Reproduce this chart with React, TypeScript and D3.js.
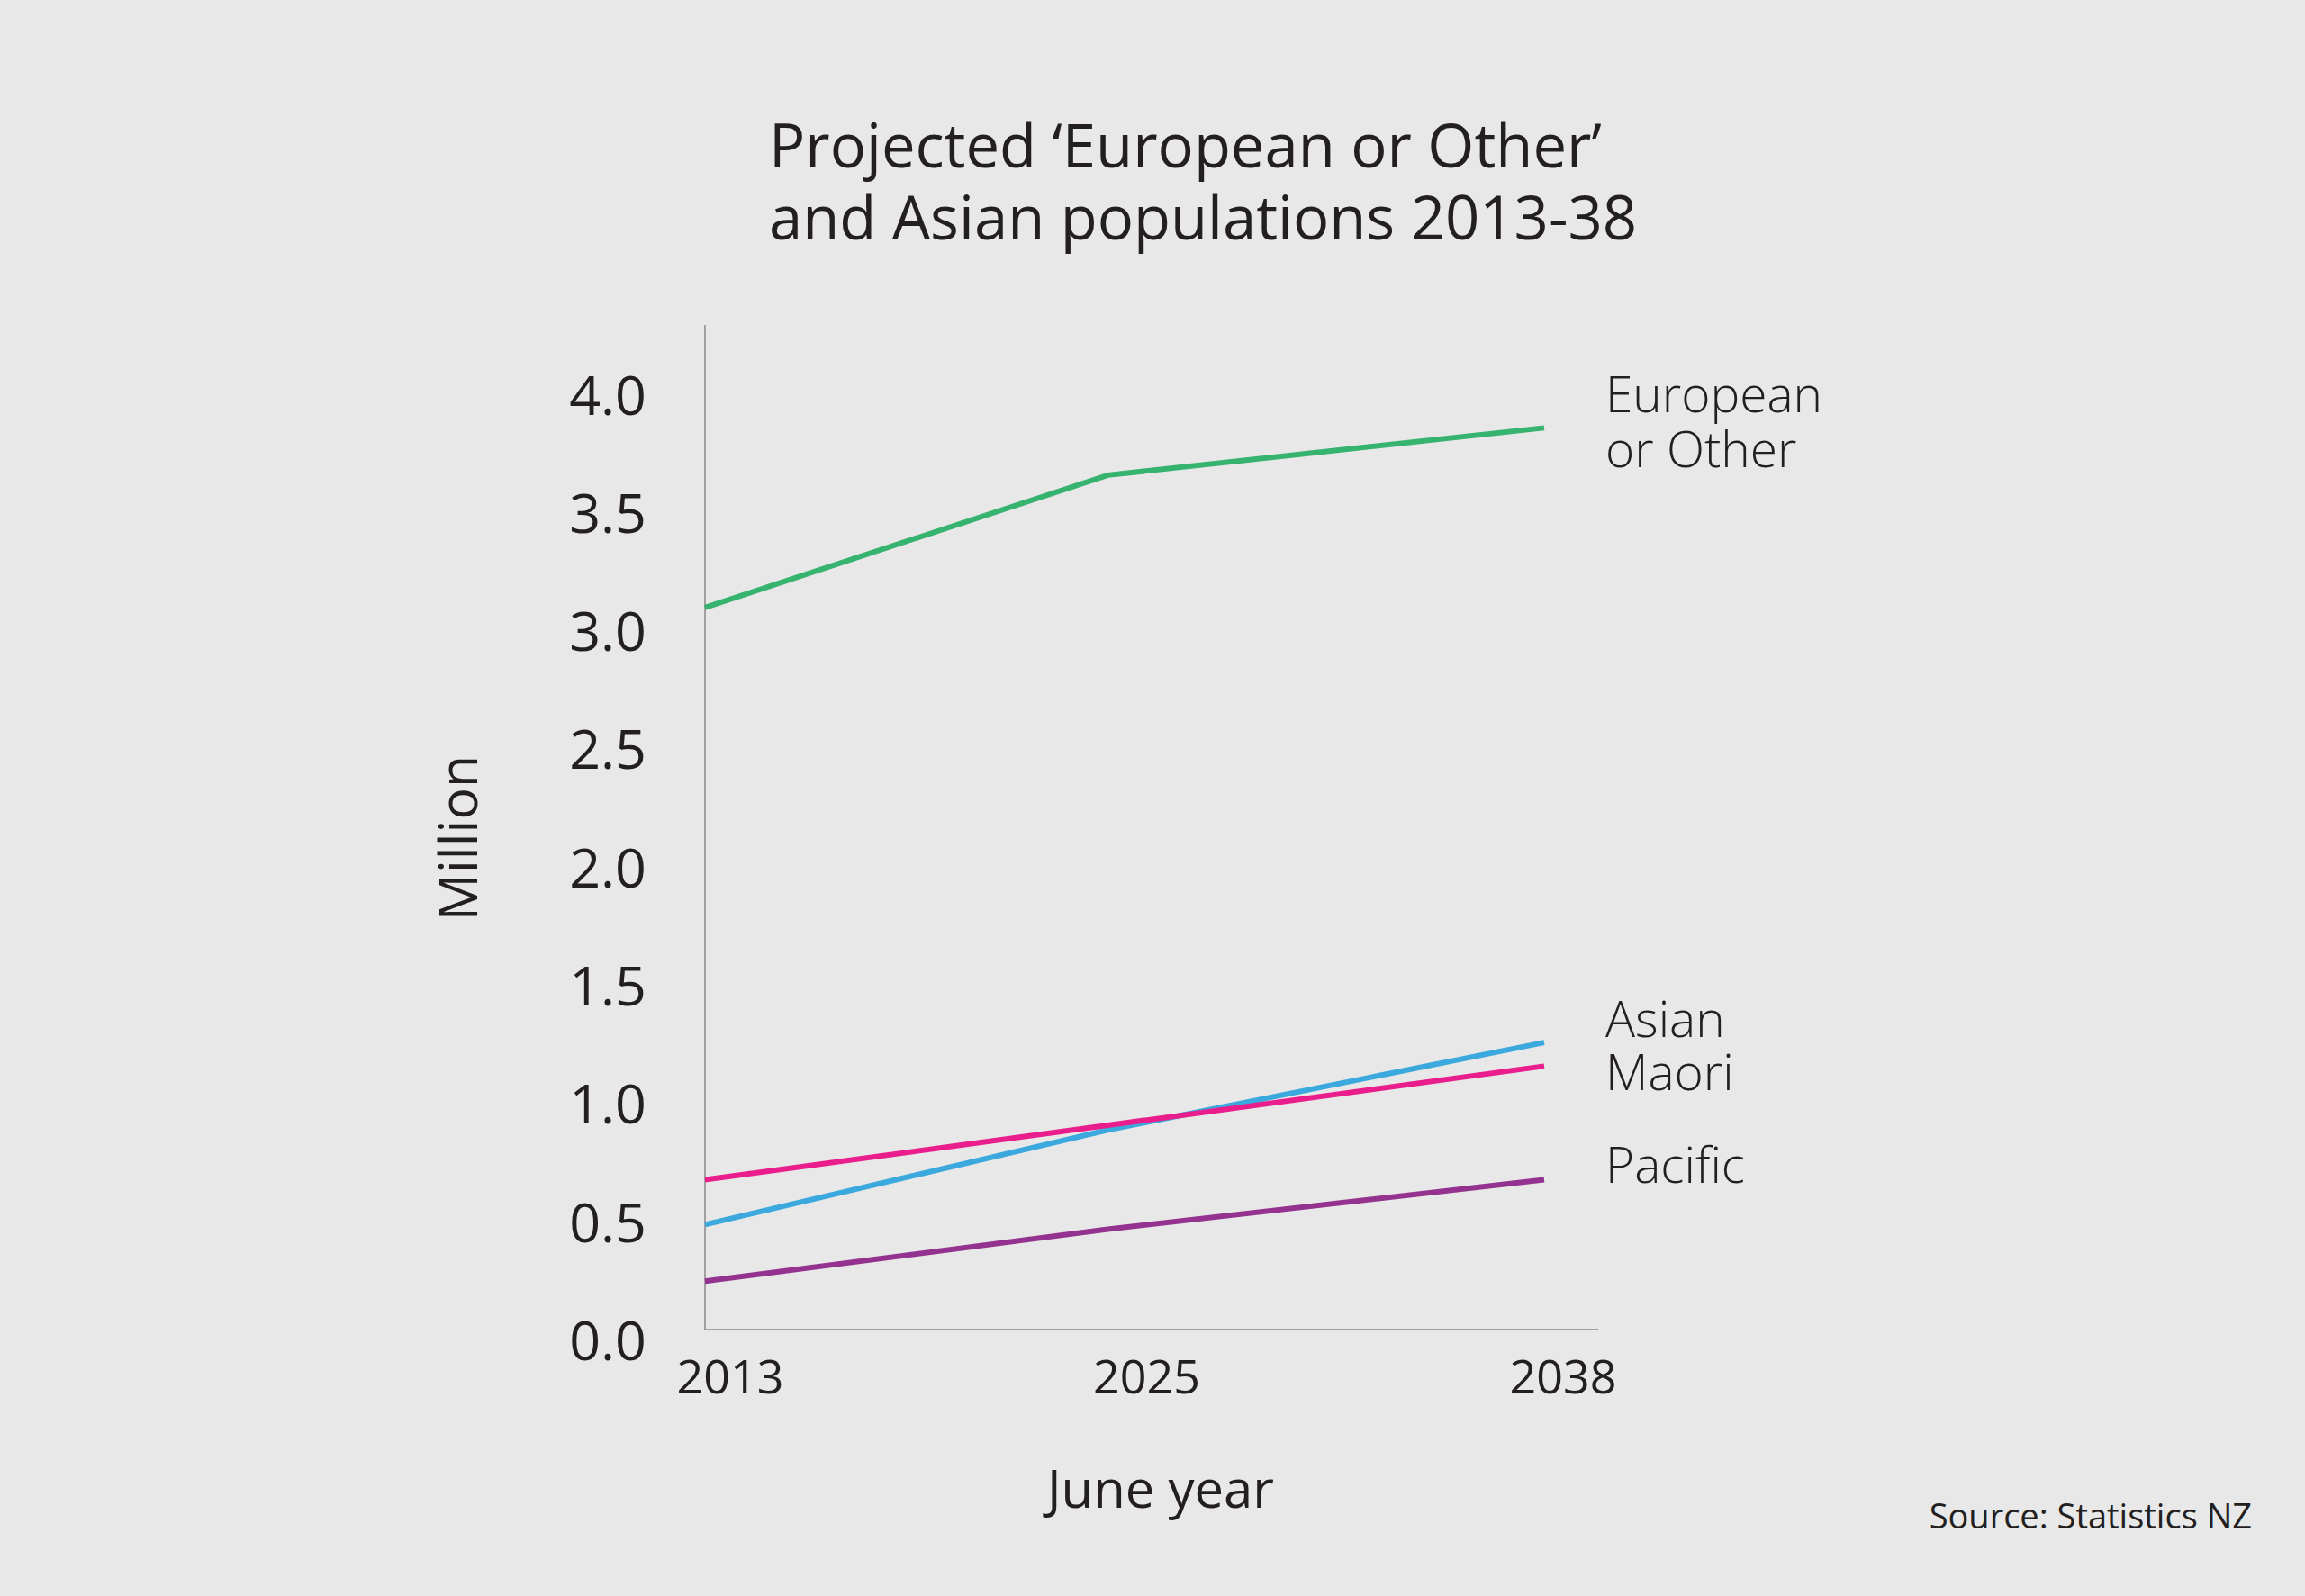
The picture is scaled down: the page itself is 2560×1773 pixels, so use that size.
import * as d3 from 'd3';
import { useLayoutEffect, useRef } from 'react';

// June years and projected population (million)
const years = [2013, 2025, 2038];
const europeanOrOther = [3.1, 3.66, 3.86];
const asian = [0.49, 0.89, 1.26];
const maori = [0.68, 0.91, 1.16];
const pacific = [0.25, 0.47, 0.68];

const yTicks = [0, 0.5, 1, 1.5, 2, 2.5, 3, 3.5, 4];
const xTickLabels = ['2013', '2025', '2038'];

const seriesNames = ['European or Other', 'Asian', 'Maori', 'Pacific'];
const seriesLabels = [['European', 'or Other'], ['Asian'], ['Maori'], ['Pacific']];
const seriesValues = [europeanOrOther, asian, maori, pacific];
const seriesColors = ['#37b370', '#3ba9dd', '#e91e8c', '#94338f'];

const W = 2560;
const H = 1773;
const FONT = '"Open Sans", "Noto Sans", sans-serif';
const INK = '#231f20';

export default function App() {
  const container = useRef<HTMLDivElement>(null);

  useLayoutEffect(() => {
    if (!container.current) return;
    document.body.style.margin = '0';
    document.body.style.background = '#e8e8e8';

    d3.select(container.current).select('svg').remove();
    const svg = d3
      .select(container.current)
      .append('svg')
      .attr('width', W)
      .attr('height', H)
      .style('display', 'block')
      .style('font-family', FONT);

    svg.append('rect').attr('width', W).attr('height', H).attr('fill', '#e8e8e8');

    // scales
    const x = d3.scaleLinear().domain([2013, 2038]).range([783, 1715]);
    const y = d3.scaleLinear().domain([0, 4]).range([1489, 438.6]);
    const xLabel = d3.scalePoint<string>().domain(xTickLabels).range([811, 1736]);

    const axisBottom = 1477;

    // title
    const title = svg
      .append('text')
      .attr('x', 854)
      .attr('y', 186)
      .attr('fill', INK)
      .style('font-size', '67px');
    title.append('tspan').attr('x', 854).text('Projected \u2018European or Other\u2019');
    title.append('tspan').attr('x', 854).attr('dy', 80).text('and Asian populations 2013-38');

    // axis lines
    svg
      .append('line')
      .attr('x1', x(2013))
      .attr('x2', x(2013))
      .attr('y1', 361)
      .attr('y2', axisBottom)
      .attr('stroke', '#8a8a8a')
      .attr('stroke-width', 1.5);
    svg
      .append('line')
      .attr('x1', x(2013))
      .attr('x2', 1775)
      .attr('y1', axisBottom)
      .attr('y2', axisBottom)
      .attr('stroke', '#8a8a8a')
      .attr('stroke-width', 1.5);

    // y tick labels
    svg
      .append('g')
      .selectAll('text')
      .data(yTicks)
      .join('text')
      .attr('x', 718)
      .attr('y', (d) => y(d))
      .attr('dy', '0.36em')
      .attr('text-anchor', 'end')
      .attr('fill', INK)
      .style('font-size', '61px')
      .text((d) => d3.format('.1f')(d));

    // x tick labels
    svg
      .append('g')
      .selectAll('text')
      .data(xTickLabels)
      .join('text')
      .attr('x', (d) => xLabel(d) ?? 0)
      .attr('y', 1548)
      .attr('text-anchor', 'middle')
      .attr('fill', INK)
      .style('font-size', '52px')
      .text((d) => d);

    // axis titles
    svg
      .append('text')
      .attr('transform', 'translate(530,931) rotate(-90)')
      .attr('text-anchor', 'middle')
      .attr('fill', INK)
      .style('font-size', '59px')
      .text('Million');
    svg
      .append('text')
      .attr('x', 1289)
      .attr('y', 1675)
      .attr('text-anchor', 'middle')
      .attr('fill', INK)
      .style('font-size', '58px')
      .text('June year');
    svg
      .append('text')
      .attr('x', 2501)
      .attr('y', 1698)
      .attr('text-anchor', 'end')
      .attr('fill', INK)
      .style('font-size', '38px')
      .text('Source: Statistics NZ');

    // lines
    const line = d3
      .line<number>()
      .x((_, i) => x(years[i]))
      .y((d) => y(d));

    svg
      .append('g')
      .selectAll('path')
      .data(seriesValues)
      .join('path')
      .attr('d', (d) => line(d))
      .attr('fill', 'none')
      .attr('stroke', (_, i) => seriesColors[i])
      .attr('stroke-width', 6);

    // series labels at the line ends
    const labelOffsets = [-17, -6, 27, 4];
    const labels = svg
      .append('g')
      .selectAll('text')
      .data(seriesNames)
      .join('text')
      .attr('x', 1783)
      .attr('y', (_, i) => y(seriesValues[i][seriesValues[i].length - 1]) + labelOffsets[i])
      .attr('fill', INK)
      .style('font-size', '55px')
      .style('font-weight', 300);
    labels.each(function (_, i) {
      const t = d3.select(this);
      seriesLabels[i].forEach((s, j) => {
        t.append('tspan')
          .attr('x', 1783)
          .attr('dy', j === 0 ? 0 : 61)
          .text(s);
      });
    });
  }, []);

  return <div ref={container} id="container"></div>;
}
